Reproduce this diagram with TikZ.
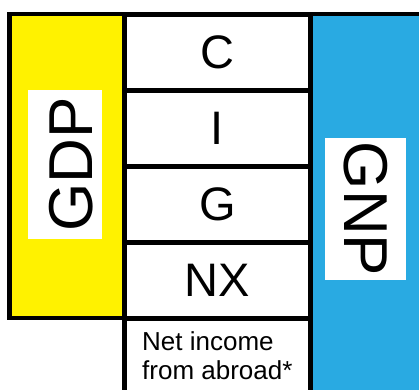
\documentclass[tikz,border=0pt]{standalone}
\usepackage{fontspec}
\setmainfont{Liberation Sans}
\definecolor{gnpblue}{RGB}{41,170,226}
\begin{document}
\begin{tikzpicture}[x=1pt,y=-1pt,
  edge/.style={line width=4.5pt},
  column/.style={draw,edge,anchor=north west,inner sep=0pt,outer sep=0pt},
  cell/.style={draw,edge,minimum width=186pt,minimum height=76pt,inner sep=0pt,outer sep=0pt,
    font=\fontsize{47}{47}\selectfont},
  tag/.style={fill=white,inner sep=0pt,font=\fontsize{62}{62}\selectfont}]
\useasboundingbox (0,0) rectangle (419,389);
\clip (0,0) rectangle (419,389);
% GNP column, running off the page
\node[column,fill=gnpblue,minimum width=140pt,minimum height=420pt] (gnp) at (310.5,14) {};
% GDP column
\node[column,fill=yellow,minimum width=115pt,minimum height=304pt] (gdp) at (9.5,14) {};
% expenditure components
\node[cell] (c)  at (217.5,52.25)  {C};
\node[cell] (i)  at (217.5,128.25) {I};
\node[cell] (g)  at (217.5,204.25) {G};
\node[cell] (nx) at (217.5,280.25) {NX};
% open box below NX
\coordinate (netl) at (124.5,400);
\coordinate (netr) at (310.5,400);
\draw[edge] (nx.south west) -- (netl);
\draw[edge] (nx.south east) -- (netr);
\node[anchor=north west,align=left,inner sep=0pt,font=\fontsize{26}{29}\selectfont]
  (net) at (142,331) {Net income\\from abroad*};
% column labels
\node[tag,rotate=90,minimum width=149pt,minimum height=74pt,text height=54pt,text depth=0pt]
  (gdpl) at (65,164.5) {GDP};
\node[tag,rotate=-90,minimum width=142pt,minimum height=81pt] (gnpl) at (365.5,209) {GNP};
\end{tikzpicture}
\end{document}
